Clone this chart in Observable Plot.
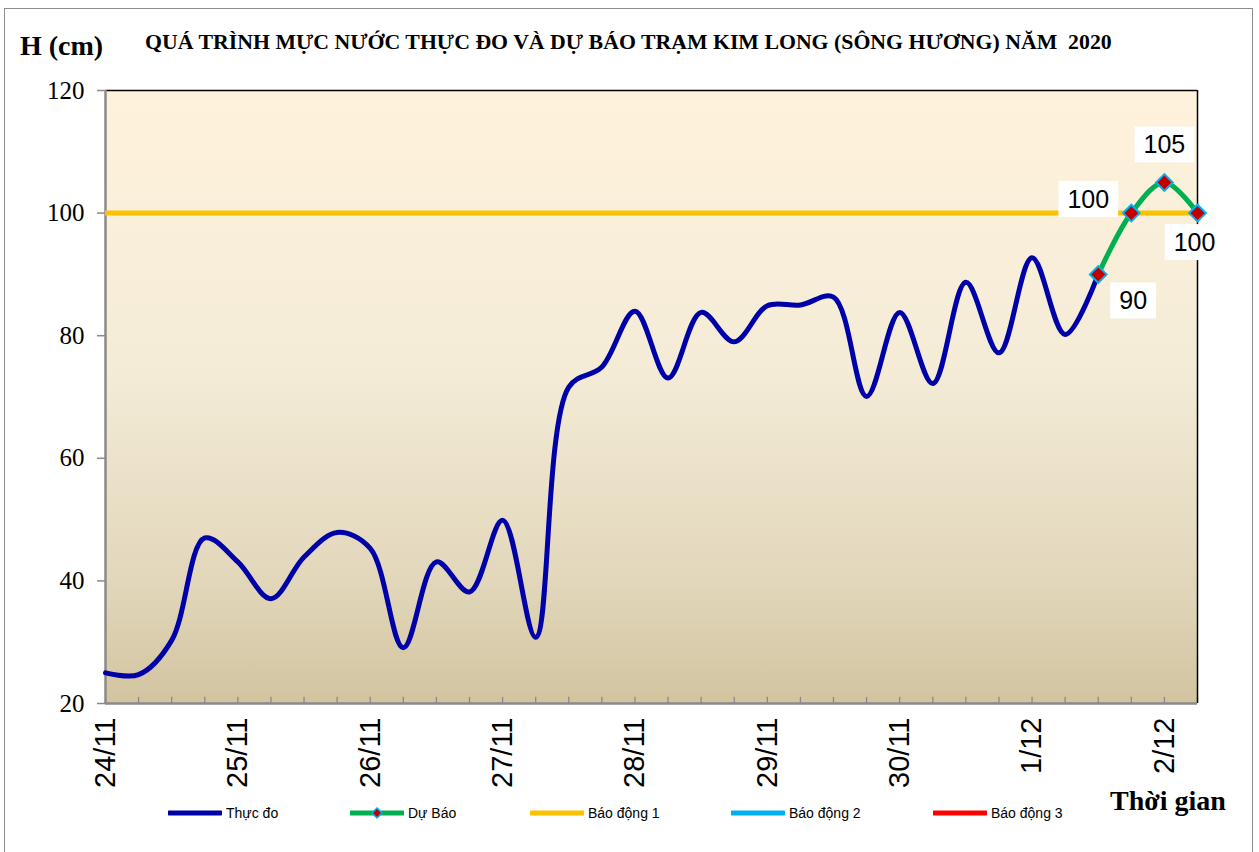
<!DOCTYPE html>
<html>
<head>
<meta charset="utf-8">
<script src="https://cdn.jsdelivr.net/npm/d3@7"></script>
<script src="https://cdn.jsdelivr.net/npm/@observablehq/plot@0.6"></script>
<style>
  body { margin: 0; background: #fff; }
  #wrap { position: relative; width: 1259px; height: 852px; overflow: hidden; background: #fff; }
  #outer { position: absolute; left: 4px; top: 8px; width: 1249px; height: 860px; border: 1.5px solid #8e8e8e; box-sizing: border-box; }
  #chart { position: absolute; left: 0; top: 0; }
  .serifb { position: absolute; font-family: "Liberation Serif", "Times New Roman", serif; font-weight: bold; color: #000; white-space: pre; line-height: 1; }
  .leg { position: absolute; top: 805px; height: 16px; display: flex; align-items: center; font-family: "Liberation Sans", Arial, sans-serif; font-size: 14px; color: #000; white-space: nowrap; }
  .leg svg { margin-right: 4px; }
</style>
</head>
<body>
<div id="wrap">
  <div id="outer"></div>
  <div id="chart"></div>
  <div class="serifb" id="ylab" style="left:20px;top:32px;font-size:28px;"></div>
  <div class="serifb" id="title" style="left:145px;top:32px;font-size:21.8px;"></div>
  <div class="serifb" id="xlab" style="left:1110px;top:787px;font-size:28px;"></div>
  <div id="legend"></div>
</div>
<script>
// ---- data ----
const chartTitle = "QUÁ TRÌNH MỰC NƯỚC THỰC ĐO VÀ DỰ BÁO TRẠM KIM LONG (SÔNG HƯƠNG) NĂM  2020";
const yAxisTitle = "H (cm)";
const xAxisTitle = "Thời gian";
const dayLabels = ["24/11", "25/11", "26/11", "27/11", "28/11", "29/11", "30/11", "1/12", "2/12"];
const stepsPerDay = 4; // 6-hourly observations
const observed = [25.0, 24.7, 30.3, 47.0, 43.1, 37.1, 43.9, 47.9, 45.3, 29.1, 43.1, 38.2, 49.9, 30.8,
                  71.6, 74.9, 84.0, 73.1, 83.8, 79.0, 84.9, 85.0, 86.3, 70.1, 83.8, 72.2, 88.7, 77.2,
                  92.7, 80.2, 90.0];
const forecast = [90, 100, 105, 100];
const alarm1 = 100;
const yTicks = [20, 40, 60, 80, 100, 120];
const legendNames = ["Thực đo", "Dự Báo", "Báo động 1", "Báo động 2", "Báo động 3"];

// ---- derived tables ----
const totalSteps = (dayLabels.length - 1) * stepsPerDay + 1;
const observedData = observed.map((v, i) => ({i, v}));
const forecastStart = observed.length - 1;
const forecastData = forecast.map((v, k) => ({i: forecastStart + k, v}));
const yDomain = [yTicks[0], yTicks[yTicks.length - 1]];
const dayTicks = dayLabels.map((d, k) => k * stepsPerDay);

// ---- styles ----
const C = {obs: "#0000A8", fc: "#00B050", mfill: "#C00000", mstroke: "#00B0F0", a1: "#FFC000", a2: "#00B0F0", a3: "#FF0000", grid: "#8a8a8a"};
const labelOffsets = [{dx: 35, dy: 27}, {dx: -43, dy: -13}, {dx: 0, dy: -37}, {dx: -3, dy: 30}];

const labelMarks = forecastData.map((d, k) =>
  Plot.text([d], {x: "i", y: "v", text: r => String(r.v), dx: labelOffsets[k].dx, dy: labelOffsets[k].dy,
    fontFamily: "Liberation Sans, Arial, sans-serif", fontSize: 25, fill: "#000"}));

const svg = Plot.plot({
  width: 1259, height: 852,
  marginLeft: 105, marginRight: 62, marginTop: 90, marginBottom: 149,
  style: {background: "transparent", overflow: "visible"},
  x: {domain: [0, totalSteps], axis: null},
  y: {domain: yDomain, axis: null},
  marks: [
    Plot.frame({fill: "url(#bgGrad)", stroke: "none"}),
    Plot.ruleX(d3.range(0, totalSteps + 1), {x: d => d, y1: yDomain[0], y2: yDomain[0] + 1, stroke: C.grid, strokeWidth: 1.3}),
    Plot.ruleY([yDomain[1]], {stroke: "#000", strokeWidth: 1.5}),
    Plot.ruleX([totalSteps], {stroke: "#000", strokeWidth: 1.5}),
    Plot.ruleX([0], {stroke: C.grid, strokeWidth: 2.5}),
    Plot.ruleY([yDomain[0]], {stroke: C.grid, strokeWidth: 2.5}),
    Plot.ruleY([alarm1], {x1: 0, x2: totalSteps, stroke: C.a1, strokeWidth: 5}),
    Plot.axisY(yTicks, {anchor: "left", tickSize: 8, tickPadding: 13, stroke: C.grid, strokeWidth: 1.5, color: "#000",
      fontFamily: "Liberation Serif, Times New Roman, serif", fontSize: 25, label: null, tickFormat: d => String(d)}),
    Plot.axisX(dayTicks, {anchor: "bottom", tickSize: 0, tickPadding: 14, tickRotate: -90, color: "#000",
      fontFamily: "Liberation Sans, Arial, sans-serif", fontSize: 29, label: null, tickFormat: i => dayLabels[i / stepsPerDay]}),
    Plot.line(observedData, {x: "i", y: "v", stroke: C.obs, strokeWidth: 5, curve: "catmull-rom"}),
    Plot.line(forecastData, {x: "i", y: "v", stroke: C.fc, strokeWidth: 5, curve: "catmull-rom"}),
    Plot.dot(forecastData, {x: "i", y: "v", symbol: "diamond2", r: 7.5, fill: C.mfill, stroke: C.mstroke, strokeWidth: 2}),
    ...labelMarks
  ]
});

document.getElementById("chart").appendChild(svg);

// gradient background of the plot area
const defs = document.createElementNS("http://www.w3.org/2000/svg", "defs");
defs.innerHTML = '<linearGradient id="bgGrad" x1="0" y1="0" x2="0" y2="1">' +
  '<stop offset="0" stop-color="#FFF2DC"/><stop offset="0.45" stop-color="#F4ECD7"/>' +
  '<stop offset="0.8" stop-color="#E2D7BB"/><stop offset="1" stop-color="#D2C4A0"/></linearGradient>';
svg.insertBefore(defs, svg.firstChild);

// white boxes behind data labels
svg.querySelectorAll('g[aria-label="text"] text').forEach(t => {
  const b = t.getBBox();
  const padX = 9, padY = 4;
  const r = document.createElementNS("http://www.w3.org/2000/svg", "rect");
  r.setAttribute("x", b.x - padX);
  r.setAttribute("y", b.y - padY);
  r.setAttribute("width", b.width + 2 * padX);
  r.setAttribute("height", b.height + 2 * padY);
  r.setAttribute("fill", "#fff");
  if (t.getAttribute("transform")) r.setAttribute("transform", t.getAttribute("transform"));
  t.parentNode.insertBefore(r, t);
});

// titles
document.getElementById("ylab").textContent = yAxisTitle;
document.getElementById("title").textContent = chartTitle;
document.getElementById("xlab").textContent = xAxisTitle;

// legend
const legendColors = [C.obs, C.fc, C.a1, C.a2, C.a3];
const legendLeft = [168, 350, 530, 731, 933];
const legend = document.getElementById("legend");
legendNames.forEach((name, k) => {
  const div = document.createElement("div");
  div.className = "leg";
  div.style.left = legendLeft[k] + "px";
  const marker = k === 1 ? `<path d="M27,3 L32,8 L27,13 L22,8 Z" fill="${C.mfill}" stroke="${C.mstroke}" stroke-width="1.5"/>` : "";
  div.innerHTML = `<svg width="54" height="16"><line x1="1" x2="53" y1="8" y2="8" stroke="${legendColors[k]}" stroke-width="5" stroke-linecap="round"/>${marker}</svg><span>${name}</span>`;
  legend.appendChild(div);
});
</script>
</body>
</html>
